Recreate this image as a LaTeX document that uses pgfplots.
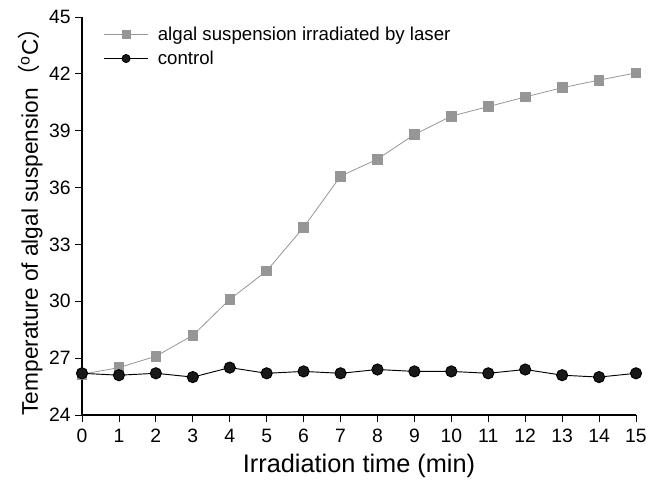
\documentclass[border=0pt]{standalone}
\usepackage{pgfplots}
\pgfplotsset{compat=1.18}
\usepackage{fontspec}
\setmainfont{Liberation Sans}
\newfontfamily\cjk{Noto Sans CJK SC}
\definecolor{sqgray}{RGB}{150,150,150}
\begin{document}
\begin{tikzpicture}
\begin{axis}[
  scale only axis,
  width=415.5pt, height=298.5pt,
  xmin=0, xmax=15, ymin=24, ymax=45,
  xtick={0,...,15},
  ytick={24,27,...,45},
  axis lines=left,
  axis line style={-, line width=0.8pt},
  tick align=outside,
  major tick length=5pt,
  tick style={black, line width=0.6pt},
  tick label style={font=\fontsize{14.5}{16}\selectfont},
  xticklabel style={yshift=-2pt},
  /pgf/number format/assume math mode=true,
  xlabel={Irradiation time (min)},
  ylabel={Temperature of algal suspension{\cjk （}\textsuperscript{o}C{\cjk ）}},
  xlabel style={font=\fontsize{19}{21}\selectfont, yshift=-2pt},
  ylabel style={font=\fontsize{17}{19}\selectfont, yshift=-2pt},
  legend style={draw=none, fill=none, at={(0,1)}, anchor=north west,
    xshift=15pt, yshift=-4pt,
    font=\fontsize{14}{16}\selectfont, row sep=2.5pt, inner sep=1pt,
    /tikz/every odd column/.append style={column sep=5pt}},
  legend cell align=left,
  legend image code/.code={
    \draw[#1] (0pt,0pt) -- (33pt,0pt);
    \draw[#1, only marks, mark size=3pt] plot coordinates {(16.5pt,0pt)};
  },
  clip=false,
]
\addplot[sqgray, line width=0.6pt, mark=square*, mark size=3.6pt, mark options={sqgray, solid}]
coordinates {
(0,26.15) (1,26.5) (2,27.1) (3,28.2) (4,30.1) (5,31.6) (6,33.9) (7,36.6)
(8,37.5) (9,38.8) (10,39.77) (11,40.27) (12,40.78) (13,41.27) (14,41.67) (15,42.05)
};
\addlegendentry{algal suspension irradiated by laser}
\addplot[black, line width=0.7pt, mark=*, mark size=4.2pt, mark options={fill=black!90, solid}]
coordinates {
(0,26.2) (1,26.1) (2,26.2) (3,26.0) (4,26.5) (5,26.2) (6,26.3) (7,26.2)
(8,26.4) (9,26.3) (10,26.3) (11,26.2) (12,26.4) (13,26.1) (14,26.0) (15,26.2)
};
\addlegendentry{control}
\end{axis}
\pgfresetboundingbox
\path (current axis.south west) ++(-61.5pt,-50.25pt) rectangle ++(495.75pt,361.5pt);
\end{tikzpicture}
\end{document}
